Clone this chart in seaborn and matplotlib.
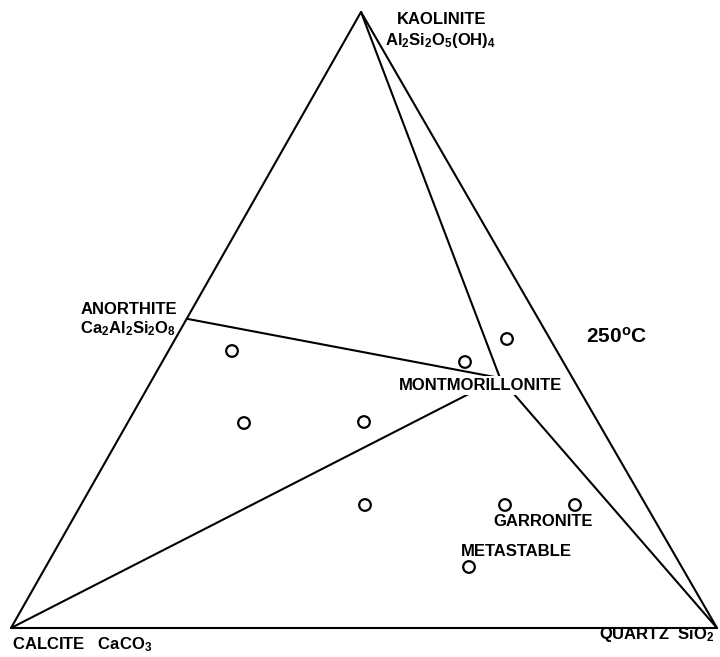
import matplotlib
matplotlib.use("Agg")
import matplotlib.pyplot as plt
import seaborn as sns
import pandas as pd

sns.set_theme(style="white")
plt.rcParams['font.family'] = ['Liberation Sans', 'DejaVu Sans']
plt.rcParams['mathtext.fontset'] = 'custom'
plt.rcParams['mathtext.rm'] = 'Liberation Sans:bold'
plt.rcParams['mathtext.default'] = 'rm'

# Phase positions (diagram coordinates)
phase_names = ["CALCITE", "QUARTZ", "KAOLINITE", "ANORTHITE", "MONTMORILLONITE"]
phase_x = [11, 717, 361, 188, 500]
phase_y = [628, 628, 12, 319, 378]

# Tie lines (pairs of phases)
tie_lines = [("CALCITE", "QUARTZ"), ("QUARTZ", "KAOLINITE"), ("KAOLINITE", "CALCITE"),
             ("ANORTHITE", "MONTMORILLONITE"), ("KAOLINITE", "MONTMORILLONITE"),
             ("CALCITE", "MONTMORILLONITE"), ("QUARTZ", "MONTMORILLONITE")]

# Experimental run compositions (open circles)
run_x = [232, 465, 507, 244, 364, 365, 505, 575, 469]
run_y = [351, 362, 339, 423, 422, 505, 505, 505, 567]

pos = {n: (x, y) for n, x, y in zip(phase_names, phase_x, phase_y)}

fig = plt.figure(figsize=(7.2, 6.57), dpi=100)
ax = fig.add_axes([0, 0, 1, 1])

for a, b in tie_lines:
    (x0, y0), (x1, y1) = pos[a], pos[b]
    ax.plot([x0, x1], [y0, y1], color="black", lw=1.5, solid_capstyle="round")

df = pd.DataFrame({"x": run_x, "y": run_y})
sns.scatterplot(data=df, x="x", y="y", ax=ax, s=70, facecolors="none",
                edgecolor="black", linewidth=1.6, marker="o", zorder=5)

tk = dict(color="black", fontweight="bold", fontsize=12)
ax.text(397, 20, "KAOLINITE", ha="left", va="center", **tk)
ax.text(385, 40, r"Al$_2$Si$_2$O$_5$(OH)$_4$", ha="left", va="center", **tk)
ax.text(177, 309, "ANORTHITE", ha="right", va="center", **tk)
ax.text(176, 329, r"Ca$_2$Al$_2$Si$_2$O$_8$", ha="right", va="center", **tk)
ax.text(586, 337, r"250$^{\mathregular{o}}$C", ha="left", va="center",
        color="black", fontweight="bold", fontsize=15)
ax.text(481, 385, "MONTMORILLONITE", ha="center", va="center",
        bbox=dict(facecolor="white", edgecolor="none", pad=1.5), zorder=4, **tk)
ax.text(543, 522, "GARRONITE", ha="center", va="center", **tk)
ax.text(516, 552, "METASTABLE", ha="center", va="center", **tk)
ax.text(12, 645, r"CALCITE   CaCO$_3$", ha="left", va="center", **tk)
ax.text(714, 635, r"QUARTZ  SiO$_2$", ha="right", va="center", **tk)

ax.set_xlim(0, 720)
ax.set_ylim(657, 0)
ax.axis("off")
fig.savefig("out.png", dpi=100, facecolor="white")
